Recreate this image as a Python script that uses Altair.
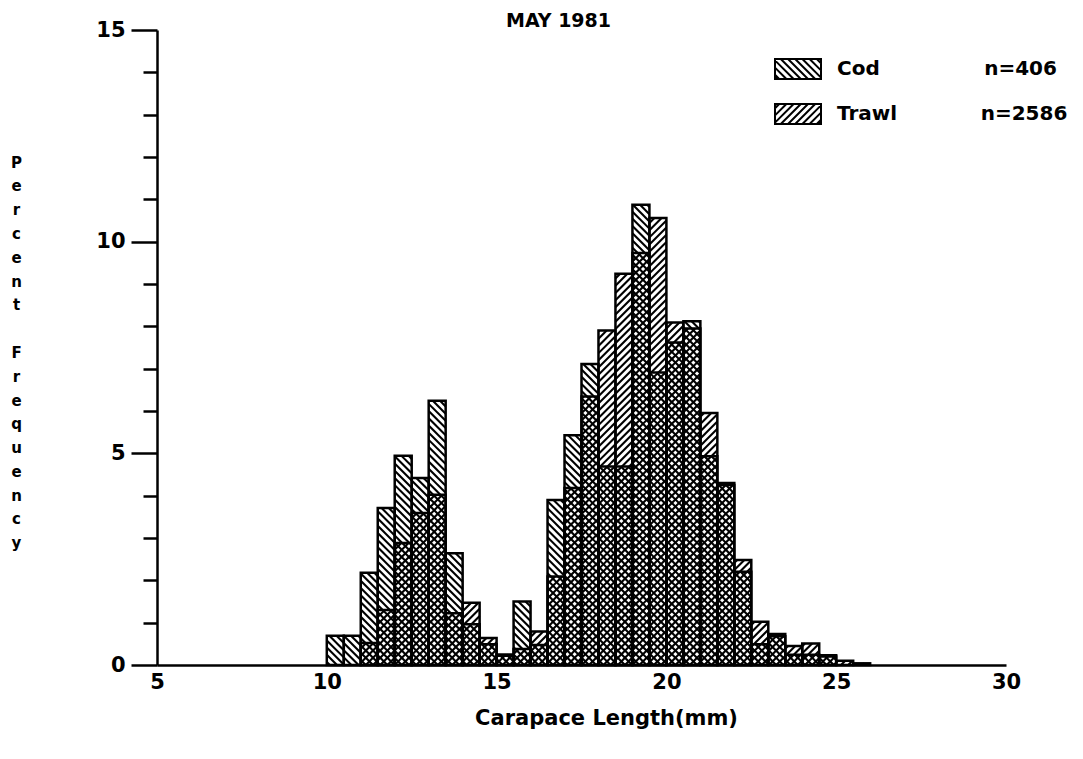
import math
import altair as alt
import pandas as pd

# ---------------- data ----------------
bin_start = [10.0, 10.5, 11.0, 11.5, 12.0, 12.5, 13.0, 13.5, 14.0, 14.5, 15.0, 15.5,
             16.0, 16.5, 17.0, 17.5, 18.0, 18.5, 19.0, 19.5, 20.0, 20.5, 21.0, 21.5,
             22.0, 22.5, 23.0, 23.5, 24.0, 24.5, 25.0, 25.5]
cod_pct = [0.69, 0.69, 2.18, 3.71, 4.94, 4.42, 6.24, 2.64, 0.96, 0.49, 0.25, 1.50,
           0.47, 3.90, 5.43, 7.11, 4.69, 4.69, 10.87, 6.91, 7.62, 8.12, 4.93, 4.25,
           2.20, 0.49, 0.73, 0.24, 0.24, 0.20, 0.00, 0.00]
trawl_pct = [0.00, 0.00, 0.52, 1.30, 2.88, 3.59, 4.02, 1.22, 1.47, 0.64, 0.22, 0.38,
             0.79, 2.09, 4.18, 6.34, 7.90, 9.24, 9.73, 10.56, 8.09, 7.95, 5.95, 4.30,
             2.48, 1.02, 0.68, 0.45, 0.51, 0.23, 0.10, 0.04]
series_names = ["Cod", "Trawl"]
series_n = [406, 2586]
x_ticks = [5, 10, 15, 20, 25, 30]
y_ticks = list(range(0, 16))
chart_title = "MAY 1981"
x_title = "Carapace Length(mm)"
y_title = "Percent Frequency"

# ---------------- layout / style ----------------
FONT = "DejaVu Sans"
W, H = 849, 635
X0, X1 = 5, 30
Y0, Y1 = 0, 15
SX = W / (X1 - X0)
SY = H / (Y1 - Y0)
BIN_W = 0.5
SP = 7.2  # hatch spacing in px

bars = pd.DataFrame({"start": bin_start, "cod": cod_pct, "trawl": trawl_pct})
bars["end"] = bars["start"] + BIN_W


def hatch(starts, heights, direction):
    rows = []
    for s, h in zip(starts, heights):
        if h <= 0:
            continue
        u0 = (s - X0) * SX
        u1 = (s + BIN_W - X0) * SX
        vh = h * SY
        if direction == "back":      # "\"  : u + v = c
            k0, k1 = math.ceil(u0 / SP), math.floor((u1 + vh) / SP)
            for k in range(k0, k1 + 1):
                c = k * SP
                ua, ub = max(u0, c - vh), min(u1, c)
                if ub - ua > 0.4:
                    rows.append((ua, c - ua, ub, c - ub))
        else:                         # "/"  : v = u + c
            k0, k1 = math.ceil(-u1 / SP), math.floor((vh - u0) / SP)
            for k in range(k0, k1 + 1):
                c = k * SP
                ua, ub = max(u0, -c), min(u1, vh - c)
                if ub - ua > 0.4:
                    rows.append((ua, ua + c, ub, ub + c))
    return pd.DataFrame(
        [{"x": X0 + a / SX, "y": b / SY, "x2": X0 + cc / SX, "y2": d / SY}
         for a, b, cc, d in rows])


cod_hatch = hatch(bars["start"], bars["cod"], "back")
trawl_hatch = hatch(bars["start"], bars["trawl"], "fwd")


def box_path(direction, half_h=0.435, sp=SP / 23.0):
    parts = [f"M-1,{-half_h}L1,{-half_h}L1,{half_h}L-1,{half_h}Z"]
    k = -6
    while k <= 6:
        c = k * sp
        if direction == "back":   # y = x + c (svg y down)
            xa, xb = max(-1, -half_h - c), min(1, half_h - c)
            if xb - xa > 0.02:
                parts.append(f"M{xa:.3f},{xa + c:.3f}L{xb:.3f},{xb + c:.3f}")
        else:                      # y = -x + c
            xa, xb = max(-1, c - half_h), min(1, c + half_h)
            if xb - xa > 0.02:
                parts.append(f"M{xa:.3f},{c - xa:.3f}L{xb:.3f},{c - xb:.3f}")
        k += 1
    return "".join(parts)


cod_path = box_path("back")
trawl_path = box_path("fwd")

NB = "\u00a0"
labels = {
    "Cod": "Cod" + NB * 15 + f"n={series_n[0]}",
    "Trawl": "Trawl" + NB * 12 + f"n={series_n[1]}",
}
label_expr = f"datum.label == 'Cod' ? '{labels['Cod']}' : '{labels['Trawl']}'"

xscale = alt.Scale(domain=[X0, X1], nice=False, zero=False)
yscale = alt.Scale(domain=[Y0, Y1], nice=False)

x_axis = alt.Axis(
    values=x_ticks, ticks=False, grid=False, labelFlush=False,
    labelFont=FONT, labelFontSize=21, labelFontWeight="bold", labelColor="black",
    labelPadding=6, domainColor="black", domainWidth=2.5,
    title=x_title, titleFont=FONT, titleFontSize=21, titleFontWeight="bold",
    titleColor="black", titleX=449, titleY=53, titleBaseline="middle",
    titleAlign="center",
)
y_axis = alt.Axis(
    values=y_ticks, grid=False,
    tickSize={"condition": {"test": "datum.value % 5 === 0", "value": 26}, "value": 14},
    tickColor="black", tickWidth=2.5,
    labelExpr="datum.value % 5 === 0 ? datum.label : ''",
    labelFont=FONT, labelFontSize=21, labelFontWeight="bold", labelColor="black",
    labelPadding=6, domainColor="black", domainWidth=2.5,
    title=[ch if ch != " " else "\u200b" for ch in y_title],
    titleFont=FONT, titleFontSize=15, titleFontWeight="bold", titleColor="black",
    titleAngle=0, titleAlign="center", titleBaseline="top",
    titleX=-141, titleY=125, titleLineHeight=23.8,
)

hatch_cod = alt.Chart(cod_hatch).mark_rule(color="black", strokeWidth=2.1).encode(
    x=alt.X("x:Q", scale=xscale, axis=x_axis), x2="x2:Q",
    y=alt.Y("y:Q", scale=yscale, axis=y_axis), y2="y2:Q",
)
hatch_trawl = alt.Chart(trawl_hatch).mark_rule(color="black", strokeWidth=2.1).encode(
    x=alt.X("x:Q", scale=xscale), x2="x2:Q",
    y=alt.Y("y:Q", scale=yscale), y2="y2:Q",
)
outline_cod = alt.Chart(bars[bars["cod"] > 0]).mark_rect(
    fill="transparent", stroke="black", strokeWidth=2.5
).encode(x=alt.X("start:Q", scale=xscale), x2="end:Q",
         y=alt.Y("cod:Q", scale=yscale), y2=alt.datum(0))
outline_trawl = alt.Chart(bars[bars["trawl"] > 0]).mark_rect(
    fill="transparent", stroke="black", strokeWidth=2.5
).encode(x=alt.X("start:Q", scale=xscale), x2="end:Q",
         y=alt.Y("trawl:Q", scale=yscale), y2=alt.datum(0))

legend_df = pd.DataFrame({"series": series_names, "n": series_n})
legend_layer = alt.Chart(legend_df).mark_point(opacity=0, color="black", filled=False).encode(
    shape=alt.Shape(
        "series:N",
        scale=alt.Scale(domain=series_names, range=[cod_path, trawl_path]),
        legend=alt.Legend(
            title=None, orient="none", legendX=617, legendY=15, padding=0,
            symbolSize=2116, symbolStrokeWidth=2, symbolStrokeColor="black",
            symbolFillColor="white", symbolOpacity=1,
            labelFont=FONT, labelFontSize=20, labelFontWeight="bold",
            labelColor="black", labelOffset=15, labelLimit=0, rowPadding=6,
            labelExpr=label_expr,
        ),
    )
)

chart = alt.layer(hatch_cod, hatch_trawl, outline_cod, outline_trawl, legend_layer).properties(
    width=W, height=H, background="white",
    title=alt.TitleParams(chart_title, font=FONT, fontSize=19, fontWeight="bold",
                          color="black", anchor="middle", dx=-23, offset=-12),
    autosize=alt.AutoSizeParams(type="none"),
    padding={"left": 149, "top": 22, "right": 64, "bottom": 66},
).configure_view(stroke=None)

chart.save("out.html", embed_options={"renderer": "svg", "actions": False})
